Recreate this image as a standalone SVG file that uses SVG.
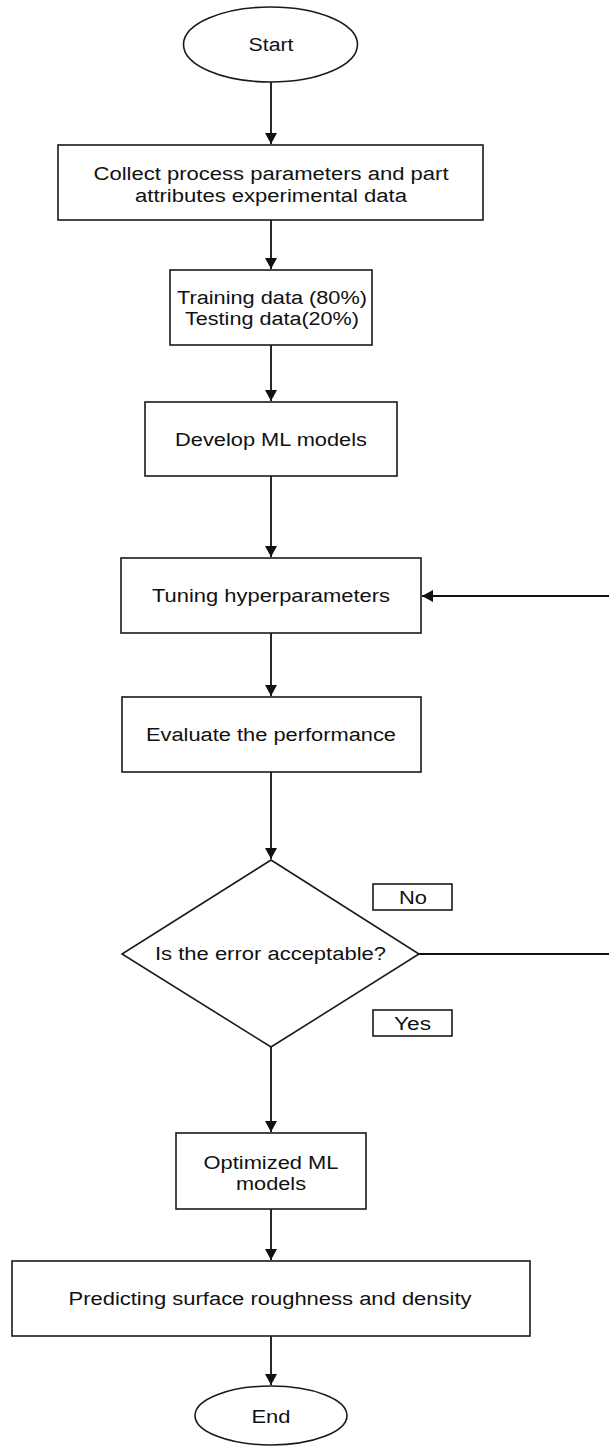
<svg xmlns="http://www.w3.org/2000/svg" width="609" height="1446" viewBox="0 0 609 1446">
<style>
.n{fill:#fff;stroke:#1a1a1a;stroke-width:1.6}
.t{font-family:"Liberation Sans",Arial,sans-serif;font-size:18px;fill:#111;text-anchor:middle}
.c{fill:none;stroke:#111;stroke-width:1.8}
</style>
<defs>
<marker id="ah" markerUnits="userSpaceOnUse" markerWidth="12" markerHeight="12" refX="11" refY="6" orient="auto">
<path d="M0,0 L11,6 L0,12 z" fill="#111"/>
</marker>
</defs>
<rect width="609" height="1446" fill="#fff"/>
<g id="connectors">
<path class="c" d="M271,82 V144" marker-end="url(#ah)"/>
<path class="c" d="M271,220 V269" marker-end="url(#ah)"/>
<path class="c" d="M271,345 V401" marker-end="url(#ah)"/>
<path class="c" d="M271,476 V557" marker-end="url(#ah)"/>
<path class="c" d="M271,633 V696" marker-end="url(#ah)"/>
<path class="c" d="M271,772 V859" marker-end="url(#ah)"/>
<path class="c" d="M419,954 H609"/>
<path class="c" d="M609,596 H422" marker-end="url(#ah)"/>
<path class="c" d="M271,1047 V1132" marker-end="url(#ah)"/>
<path class="c" d="M271,1209 V1260" marker-end="url(#ah)"/>
<path class="c" d="M271,1336 V1385" marker-end="url(#ah)"/>
</g>
<g id="start">
<ellipse class="n" cx="270.5" cy="44.5" rx="87" ry="37.5"/>
<text class="t" x="271" y="51" textLength="45" lengthAdjust="spacingAndGlyphs">Start</text>
</g>
<g id="collect">
<rect class="n" x="58" y="145" width="425" height="75"/>
<text class="t" x="271" y="180" textLength="355" lengthAdjust="spacingAndGlyphs">Collect process parameters and part</text>
<text class="t" x="271" y="202" textLength="272" lengthAdjust="spacingAndGlyphs">attributes experimental data</text>
</g>
<g id="split">
<rect class="n" x="170" y="270" width="202" height="75"/>
<text class="t" x="272" y="304" textLength="190" lengthAdjust="spacingAndGlyphs">Training data (80%)</text>
<text class="t" x="272" y="325" textLength="174" lengthAdjust="spacingAndGlyphs">Testing data(20%)</text>
</g>
<g id="develop">
<rect class="n" x="145" y="402" width="252" height="74"/>
<text class="t" x="271" y="446" textLength="192" lengthAdjust="spacingAndGlyphs">Develop ML models</text>
</g>
<g id="tuning">
<rect class="n" x="121" y="558" width="300" height="75"/>
<text class="t" x="271" y="602" textLength="238" lengthAdjust="spacingAndGlyphs">Tuning hyperparameters</text>
</g>
<g id="evaluate">
<rect class="n" x="122" y="697" width="299" height="75"/>
<text class="t" x="271" y="741" textLength="250" lengthAdjust="spacingAndGlyphs">Evaluate the performance</text>
</g>
<g id="decision">
<polygon class="n" points="271,860 419,954 271,1047 122,954"/>
<text class="t" x="270.5" y="960" textLength="231" lengthAdjust="spacingAndGlyphs">Is the error acceptable?</text>
</g>
<g id="label-no">
<rect class="n" x="373" y="884" width="79" height="26"/>
<text class="t" x="413" y="904" textLength="28" lengthAdjust="spacingAndGlyphs">No</text>
</g>
<g id="label-yes">
<rect class="n" x="373" y="1010" width="79" height="26"/>
<text class="t" x="412.5" y="1030" textLength="37" lengthAdjust="spacingAndGlyphs">Yes</text>
</g>
<g id="optimized">
<rect class="n" x="176" y="1133" width="190" height="76"/>
<text class="t" x="271" y="1169" textLength="135" lengthAdjust="spacingAndGlyphs">Optimized ML</text>
<text class="t" x="271" y="1190" textLength="70" lengthAdjust="spacingAndGlyphs">models</text>
</g>
<g id="predicting">
<rect class="n" x="12" y="1261" width="518" height="75"/>
<text class="t" x="270" y="1305" textLength="403" lengthAdjust="spacingAndGlyphs">Predicting surface roughness and density</text>
</g>
<g id="end">
<ellipse class="n" cx="271" cy="1415.5" rx="76" ry="29.5"/>
<text class="t" x="271" y="1423" textLength="39" lengthAdjust="spacingAndGlyphs">End</text>
</g>
</svg>
